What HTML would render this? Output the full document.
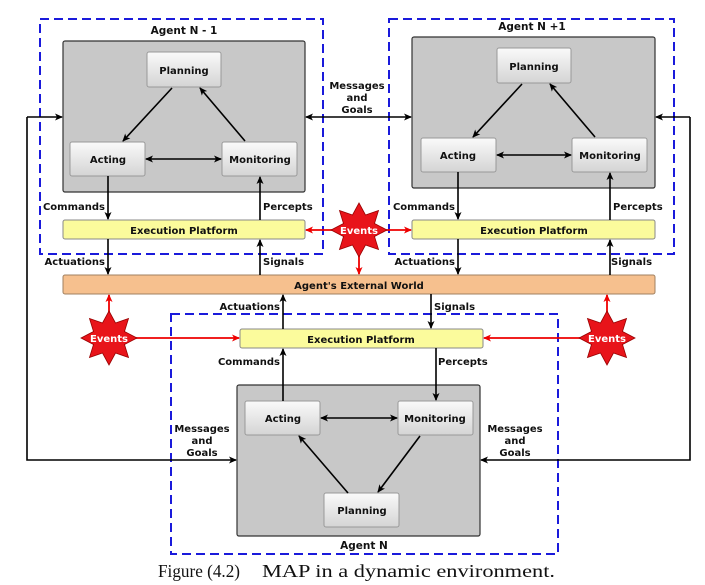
<!DOCTYPE html>
<html><head><style>body{margin:0;background:#fff}svg{display:block}
text{font-family:"DejaVu Sans","Liberation Sans",sans-serif;font-weight:bold;font-size:10px;fill:#111}
.n{font-size:10.5px}</style></head><body>
<svg width="705" height="585" viewBox="0 0 705 585">
<defs>
<marker id="a" markerWidth="8" markerHeight="8" refX="7" refY="4" orient="auto-start-reverse" markerUnits="userSpaceOnUse"><path d="M0,0.5 L8,4 L0,7.5 L2,4z" fill="#000"/></marker>
<marker id="r" markerWidth="8" markerHeight="8" refX="7" refY="4" orient="auto-start-reverse" markerUnits="userSpaceOnUse"><path d="M0,0.5 L8,4 L0,7.5 L2,4z" fill="#e00"/></marker>
<linearGradient id="g" x1="0" y1="0" x2="0" y2="1"><stop offset="0" stop-color="#fafafa"/><stop offset="1" stop-color="#d4d4d4"/></linearGradient>
<polygon id="st" points="0,-27 6.5,-15 19.5,-19.5 15.5,-6.5 28,0 15.5,6.5 19.5,19.5 6.5,15 0,27 -6.5,15 -19.5,19.5 -15.5,6.5 -28,0 -15.5,-6.5 -19.5,-19.5 -6.5,-15" fill="#e8141a" stroke="#900" stroke-width="0.8"/>
</defs>
<g fill="none" stroke="#1a1adb" stroke-width="2" stroke-dasharray="9,5">
<rect x="40" y="19" width="283" height="235"/>
<rect x="389" y="19" width="285" height="235"/>
<rect x="171" y="314" width="387" height="240"/>
</g>
<g fill="#c8c8c8" stroke="#333" stroke-width="1.2">
<rect x="63" y="41" width="242" height="151" rx="2"/>
<rect x="412" y="37" width="243" height="151" rx="2"/>
<rect x="237" y="385" width="243" height="151" rx="2"/>
</g>
<g fill="url(#g)" stroke="#999" stroke-width="1">
<rect x="147" y="52" width="74" height="35" rx="2"/>
<rect x="70" y="142" width="75" height="34" rx="2"/>
<rect x="222" y="142" width="75" height="34" rx="2"/>
<rect x="497" y="48" width="74" height="35" rx="2"/>
<rect x="421" y="138" width="75" height="34" rx="2"/>
<rect x="572" y="138" width="75" height="34" rx="2"/>
<rect x="245" y="401" width="75" height="34" rx="2"/>
<rect x="398" y="401" width="75" height="34" rx="2"/>
<rect x="324" y="493" width="75" height="34" rx="2"/>
</g>
<g fill="#fbfb9c" stroke="#888" stroke-width="1">
<rect x="63" y="220" width="242" height="19" rx="2"/>
<rect x="412" y="220" width="243" height="19" rx="2"/>
<rect x="240" y="329" width="243" height="19" rx="2"/>
</g>
<rect x="63" y="275" width="592" height="19" rx="2" fill="#f6c08e" stroke="#a08060"/>
<g stroke="#000" stroke-width="1.6" fill="none" marker-end="url(#a)">
<line x1="172" y1="88" x2="123" y2="141"/>
<line x1="245" y1="141" x2="200" y2="88"/>
<line x1="146" y1="159" x2="221" y2="159" marker-start="url(#a)"/>
<line x1="108" y1="176" x2="108" y2="219"/>
<line x1="260" y1="220" x2="260" y2="177"/>
<line x1="108" y1="239" x2="108" y2="274"/>
<line x1="260" y1="275" x2="260" y2="240"/>
<line x1="522" y1="84" x2="473" y2="137"/>
<line x1="595" y1="137" x2="550" y2="84"/>
<line x1="497" y1="155" x2="571" y2="155" marker-start="url(#a)"/>
<line x1="458" y1="172" x2="458" y2="219"/>
<line x1="610" y1="220" x2="610" y2="173"/>
<line x1="458" y1="239" x2="458" y2="274"/>
<line x1="610" y1="275" x2="610" y2="240"/>
<line x1="306" y1="117" x2="411" y2="117" marker-start="url(#a)"/>
<polyline points="27,117 27,460 236,460"/>
<line x1="27" y1="117" x2="62" y2="117"/>
<polyline points="690,117 690,460 481,460"/>
<line x1="690" y1="117" x2="656" y2="117"/>
<line x1="283" y1="329" x2="283" y2="295"/>
<line x1="431" y1="294" x2="431" y2="328"/>
<line x1="283" y1="401" x2="283" y2="349"/>
<line x1="436" y1="348" x2="436" y2="400"/>
<line x1="321" y1="418" x2="397" y2="418" marker-start="url(#a)"/>
<line x1="420" y1="436" x2="378" y2="492"/>
<line x1="348" y1="493" x2="299" y2="436"/>
</g>
<g stroke="#e00" stroke-width="1.8" marker-end="url(#r)">
<line x1="340" y1="230" x2="306" y2="230"/>
<line x1="378" y1="230" x2="411" y2="230"/>
<line x1="359" y1="250" x2="359" y2="274"/>
<line x1="130" y1="338" x2="239" y2="338"/>
<line x1="109" y1="318" x2="109" y2="295"/>
<line x1="588" y1="338" x2="484" y2="338"/>
<line x1="607" y1="318" x2="607" y2="295"/>
</g>
<use href="#st" x="359" y="230"/>
<use href="#st" x="109" y="338"/>
<use href="#st" x="607" y="338"/>
<g text-anchor="middle" style="font-size:9.5px">
<text x="359" y="234" style="fill:#fff">Events</text>
<text x="109" y="342" style="fill:#fff">Events</text>
<text x="607" y="342" style="fill:#fff">Events</text>
</g>
<g text-anchor="middle">
<text x="184" y="34" class="n">Agent N - 1</text>
<text x="532" y="30" class="n">Agent N +1</text>
<text x="364" y="549" class="n">Agent N</text>
<text x="184" y="74">Planning</text>
<text x="108" y="163">Acting</text>
<text x="260" y="163">Monitoring</text>
<text x="534" y="70">Planning</text>
<text x="458" y="159">Acting</text>
<text x="610" y="159">Monitoring</text>
<text x="283" y="422">Acting</text>
<text x="435" y="422">Monitoring</text>
<text x="362" y="514">Planning</text>
<text x="184" y="234">Execution Platform</text>
<text x="534" y="234">Execution Platform</text>
<text x="361" y="343">Execution Platform</text>
<text x="359" y="289">Agent's External World</text>
<text x="357" y="89">Messages</text><text x="357" y="101">and</text><text x="357" y="113">Goals</text>
<text x="202" y="432">Messages</text><text x="202" y="444">and</text><text x="202" y="456">Goals</text>
<text x="515" y="432">Messages</text><text x="515" y="444">and</text><text x="515" y="456">Goals</text>
</g>
<g text-anchor="end">
<text x="105" y="210">Commands</text>
<text x="105" y="265">Actuations</text>
<text x="455" y="210">Commands</text>
<text x="455" y="265">Actuations</text>
<text x="280" y="310">Actuations</text>
<text x="280" y="365">Commands</text>
</g>
<text x="263" y="210">Percepts</text>
<text x="263" y="265">Signals</text>
<text x="613" y="210">Percepts</text>
<text x="611" y="265">Signals</text>
<text x="434" y="310">Signals</text>
<text x="438" y="365">Percepts</text>
<text x="158" y="577" textLength="82" lengthAdjust="spacingAndGlyphs" style="font-family:'Liberation Serif',serif;font-weight:normal;font-size:18px">Figure (4.2)</text>
<text x="262" y="577" textLength="293" lengthAdjust="spacingAndGlyphs" style="font-family:'Liberation Serif',serif;font-weight:normal;font-size:18px">MAP in a dynamic environment.</text>
</svg>
</body></html>
